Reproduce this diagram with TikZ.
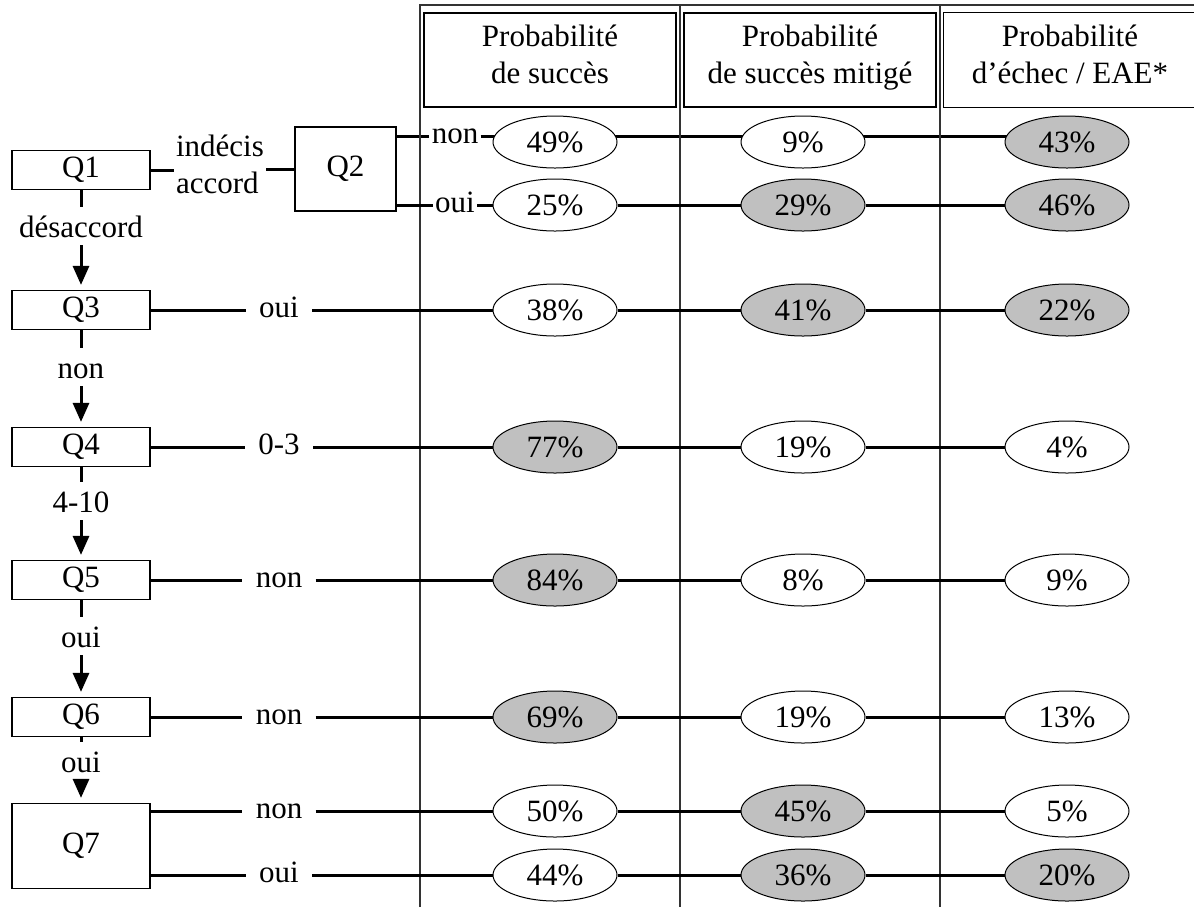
\documentclass[tikz,border=0pt]{standalone}
\usepackage{fontspec}
\setmainfont{Liberation Serif}
\usetikzlibrary{shapes.geometric,arrows.meta,backgrounds}
\definecolor{ellgray}{HTML}{C0C0C0}
\begin{document}
\begin{tikzpicture}[x=0.5pt,y=-0.5pt,
  every node/.style={font=\fontsize{15.5pt}{18.5pt}\selectfont},
  qbox/.style={draw, line width=0.6pt, minimum width=69pt, minimum height=19.5pt, inner sep=0pt},
  hbox/.style={draw, line width=0.6pt, minimum width=126pt, minimum height=47pt, align=center, inner sep=0pt},
  pw/.style={ellipse, draw, line width=0.5pt, fill=white, minimum width=62pt, minimum height=26pt, inner sep=0pt},
  pg/.style={pw, fill=ellgray},
  conn/.style={line width=1.5pt},
  rowlbl/.style={inner xsep=6.5pt, inner ysep=0pt, text height=7pt, text depth=0pt},
  smalllbl/.style={inner xsep=1pt, inner ysep=0pt, text height=7pt, text depth=0pt},
  downlbl/.style={inner xsep=0pt, inner ysep=4pt, text height=11pt, text depth=0pt, anchor=base},
  arr/.style={line width=1.5pt, -{Triangle[width=8pt,length=9.5pt]}, shorten >=2.5pt},
  colline/.style={line width=0.7pt, draw=black!80}
]
\useasboundingbox (0,0) rectangle (1194,907);

% table frame
\draw[colline] (420,907) -- (420,5) -- (1200,5);
\draw[colline] (680,5) -- (680,907);
\draw[colline] (940,5) -- (940,907);

% headers
\node[hbox] (h1) at (550,60) {Probabilité\\de succès\strut};
\node[hbox] (h2) at (810,60) {Probabilité\\de succès mitigé\strut};
\node[hbox, draw=none] (h3) at (1070,60) {Probabilité\\d’échec / EAE*\strut};
\draw[line width=0.6pt] ([xshift=20pt]h3.north east) -- (h3.north west) -- (h3.south west) -- ([xshift=20pt]h3.south east);

% question boxes
\node[qbox] (q1) at (81,170) {Q1};
\node[draw, line width=0.6pt, minimum width=50.5pt, minimum height=42pt, inner sep=0pt] (q2) at (345.5,169) {Q2};
\node[qbox] (q3) at (81,310) {Q3};
\node[qbox] (q4) at (81,447) {Q4};
\node[qbox] (q5) at (81,580) {Q5};
\node[qbox] (q6) at (81,717) {Q6};
\node[qbox, minimum height=42.5pt] (q7) at (81,846) {Q7};

% Q1 -> Q2
\node[align=left, inner xsep=1pt, inner ysep=0pt] (ia) at (220,164) {indécis\\accord};
\draw[conn] (q1.east) -- (q1.east -| ia.west);
\draw[conn] (ia.east |- q2.west) -- (q2.west);

% vertical chain
\node[downlbl] (d1) at (81,237) {désaccord};
\node[downlbl] (d3) at (81,378) {non};
\node[downlbl] (d4) at (81,512) {4-10};
\node[downlbl] (d5) at (81,647) {oui};
\node[downlbl] (d6) at (81,772) {oui};
\draw[conn] (q1.south) -- (d1.north); \draw[arr] (d1.south) -- (q3.north);
\draw[conn] (q3.south) -- (d3.north); \draw[arr] (d3.south) -- (q4.north);
\draw[conn] (q4.south) -- (d4.north); \draw[arr] (d4.south) -- (q5.north);
\draw[conn] (q5.south) -- (d5.north); \draw[arr] (d5.south) -- (q6.north);
\draw[conn] (q6.south) -- (d6.north); \draw[arr] (d6.south) -- (q7.north);

% row labels
\node[smalllbl] (la) at (455,136) {non};
\node[smalllbl] (lb) at (455,205) {oui};
\node[rowlbl] (l3) at (279,310) {oui};
\node[rowlbl] (l4) at (279,447) {0-3};
\node[rowlbl] (l5) at (279,580) {non};
\node[rowlbl] (l6) at (279,717) {non};
\node[rowlbl] (l7a) at (279,811) {non};
\node[rowlbl] (l7b) at (279,875) {oui};

% ellipses
\node[pw] (a1) at (555,142) {49\%};
\node[pw] (a2) at (803,142) {9\%};
\node[pg] (a3) at (1067,142) {43\%};
\node[pw] (b1) at (555,205) {25\%};
\node[pg] (b2) at (803,205) {29\%};
\node[pg] (b3) at (1067,205) {46\%};
\node[pw] (c1) at (555,310) {38\%};
\node[pg] (c2) at (803,310) {41\%};
\node[pg] (c3) at (1067,310) {22\%};
\node[pg] (e1) at (555,447) {77\%};
\node[pw] (e2) at (803,447) {19\%};
\node[pw] (e3) at (1067,447) {4\%};
\node[pg] (f1) at (555,580) {84\%};
\node[pw] (f2) at (803,580) {8\%};
\node[pw] (f3) at (1067,580) {9\%};
\node[pg] (g1) at (555,717) {69\%};
\node[pw] (g2) at (803,717) {19\%};
\node[pw] (g3) at (1067,717) {13\%};
\node[pw] (m1) at (555,811) {50\%};
\node[pg] (m2) at (803,811) {45\%};
\node[pw] (m3) at (1067,811) {5\%};
\node[pw] (n1) at (555,875) {44\%};
\node[pg] (n2) at (803,875) {36\%};
\node[pg] (n3) at (1067,875) {20\%};

% row A connectors (line slightly above ellipse centres), behind ellipses
\begin{pgfonlayer}{background}
\draw[conn] (q2.east |- la.west) -- (la.west);
\draw[conn] (la.east) -- (a1.center |- la.east);
\draw[conn] (a1.center |- la.east) -- (a3.center |- la.east);
\end{pgfonlayer}

% other rows
\draw[conn] (q2.east |- lb.west) -- (lb.west);
\draw[conn] (lb.east) -- (b1.west); \draw[conn] (b1.east) -- (b2.west); \draw[conn] (b2.east) -- (b3.west);
\draw[conn] (q3.east) -- (l3.west);
\draw[conn] (l3.east) -- (c1.west); \draw[conn] (c1.east) -- (c2.west); \draw[conn] (c2.east) -- (c3.west);
\draw[conn] (q4.east) -- (l4.west);
\draw[conn] (l4.east) -- (e1.west); \draw[conn] (e1.east) -- (e2.west); \draw[conn] (e2.east) -- (e3.west);
\draw[conn] (q5.east) -- (l5.west);
\draw[conn] (l5.east) -- (f1.west); \draw[conn] (f1.east) -- (f2.west); \draw[conn] (f2.east) -- (f3.west);
\draw[conn] (q6.east) -- (l6.west);
\draw[conn] (l6.east) -- (g1.west); \draw[conn] (g1.east) -- (g2.west); \draw[conn] (g2.east) -- (g3.west);
\draw[conn] (q7.east |- l7a.west) -- (l7a.west);
\draw[conn] (l7a.east) -- (m1.west); \draw[conn] (m1.east) -- (m2.west); \draw[conn] (m2.east) -- (m3.west);
\draw[conn] (q7.east |- l7b.west) -- (l7b.west);
\draw[conn] (l7b.east) -- (n1.west); \draw[conn] (n1.east) -- (n2.west); \draw[conn] (n2.east) -- (n3.west);
\end{tikzpicture}
\end{document}
